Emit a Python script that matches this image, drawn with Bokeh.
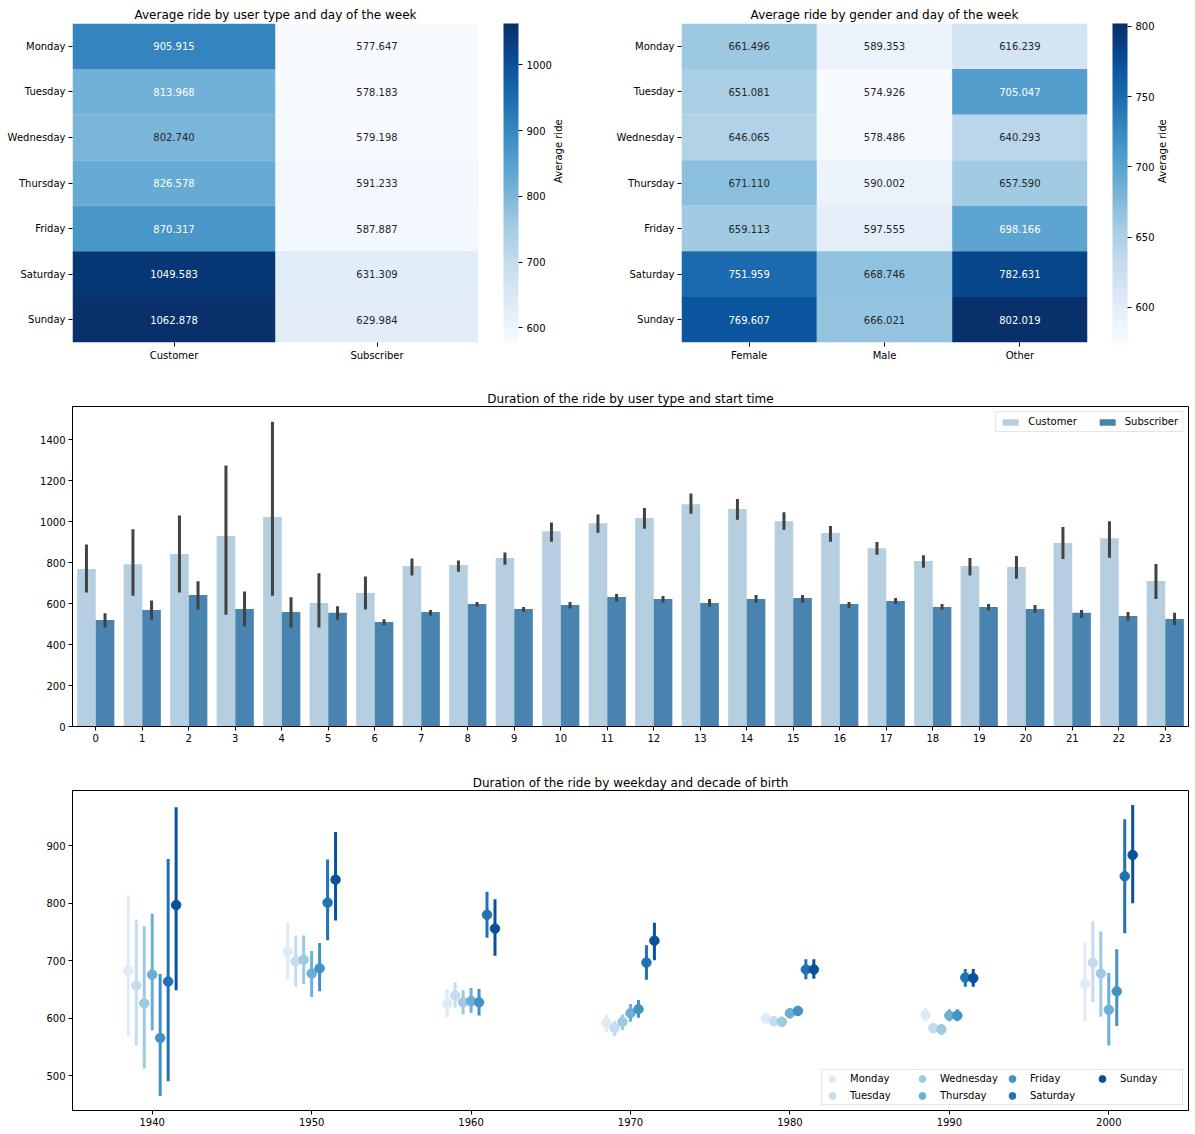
import numpy as np
from bokeh.plotting import figure
from bokeh.models import (ColumnDataSource, FactorRange, Range1d, LinearColorMapper, ColorBar,
                          FixedTicker, Legend, LegendItem, CategoricalAxis)
from bokeh.layouts import column, row
from bokeh.transform import dodge, transform
from bokeh.palettes import Blues256
from bokeh.core.properties import value
from bokeh.embed import file_html
from bokeh.resources import INLINE

FONT = "DejaVu Sans"

# ---------------- data ----------------
days = ["Monday", "Tuesday", "Wednesday", "Thursday", "Friday", "Saturday", "Sunday"]
user_types = ["Customer", "Subscriber"]
genders = ["Female", "Male", "Other"]

ut_customer = [905.915, 813.968, 802.740, 826.578, 870.317, 1049.583, 1062.878]
ut_subscriber = [577.647, 578.183, 579.198, 591.233, 587.887, 631.309, 629.984]

g_female = [661.496, 651.081, 646.065, 671.110, 659.113, 751.959, 769.607]
g_male = [589.353, 574.926, 578.486, 590.002, 597.555, 668.746, 666.021]
g_other = [616.239, 705.047, 640.293, 657.590, 698.166, 782.631, 802.019]

hours = list(range(24))
cust_mean = [769, 793, 842, 930, 1023, 603, 652, 784, 789, 823, 954, 993, 1018, 1086, 1062, 1003, 945, 871, 808, 784, 779, 896, 920, 711]
cust_lo = [654, 639, 654, 546, 639, 483, 571, 737, 756, 790, 902, 946, 966, 1039, 1010, 961, 902, 839, 776, 737, 722, 818, 824, 623]
cust_hi = [889, 963, 1031, 1275, 1489, 748, 733, 821, 811, 850, 997, 1036, 1067, 1138, 1111, 1046, 979, 901, 837, 823, 833, 974, 1003, 794]
sub_mean = [520, 569, 642, 574, 559, 555, 511, 559, 598, 574, 594, 633, 623, 603, 623, 628, 598, 613, 584, 584, 574, 555, 540, 525]
sub_lo = [483, 522, 571, 488, 483, 522, 494, 542, 585, 561, 576, 610, 605, 585, 605, 605, 579, 598, 571, 566, 555, 530, 517, 496]
sub_hi = [553, 616, 709, 660, 631, 587, 524, 569, 608, 584, 608, 647, 637, 623, 642, 642, 608, 628, 598, 598, 594, 569, 559, 555]

decades = [1940, 1950, 1960, 1970, 1980, 1990, 2000]
monday_mean = [683, 716, 626, 592, 600, 606, 660]
monday_lo = [569, 668, 602, 576, 592, 595, 595]
monday_hi = [814, 767, 651, 607, 610, 618, 732]
tuesday_mean = [657, 699, 640, 583, 595, 583, 697]
tuesday_lo = [553, 655, 619, 569, 587, 575, 628]
tuesday_hi = [772, 744, 663, 596, 603, 592, 769]
wednesday_mean = [626, 702, 628, 594, 594, 581, 678]
wednesday_lo = [513, 660, 607, 580, 586, 571, 603]
wednesday_hi = [760, 744, 649, 607, 603, 589, 751]
thursday_mean = [676, 678, 630, 609, 609, 605, 615]
thursday_lo = [579, 637, 610, 594, 600, 595, 553]
thursday_hi = [782, 717, 653, 625, 617, 616, 679]
friday_mean = [566, 687, 628, 616, 613, 605, 647]
friday_lo = [465, 647, 605, 601, 604, 595, 587]
friday_hi = [677, 731, 651, 632, 621, 616, 720]
saturday_mean = [664, 801, 780, 697, 685, 671, 847]
saturday_lo = [491, 736, 740, 667, 668, 655, 748]
saturday_hi = [877, 876, 820, 727, 703, 686, 946]
sunday_mean = [797, 841, 756, 735, 685, 670, 884]
sunday_lo = [649, 770, 709, 701, 669, 655, 800]
sunday_hi = [967, 924, 807, 766, 703, 686, 971]

day_colors = ["#deebf7", "#c6dbef", "#9ecae1", "#6baed6", "#4292c6", "#2171b5", "#08519c"]
cust_color = "#b5cfe0"
sub_color = "#4884af"


# ---------------- helpers ----------------
def rel_lum(h):
    r, g, b = [int(h[i:i + 2], 16) / 255 for i in (1, 3, 5)]

    def lin(c):
        return c / 12.92 if c <= 0.03928 else ((c + 0.055) / 1.055) ** 2.4
    return 0.2126 * lin(r) + 0.7152 * lin(g) + 0.0722 * lin(b)


pal = list(Blues256)
if rel_lum(pal[0]) < rel_lum(pal[-1]):
    pal = pal[::-1]


def cell_color(v, lo, hi):
    n = len(pal)
    i = int((v - lo) / (hi - lo) * n)
    return pal[min(max(i, 0), n - 1)]


def style_common(p, standoff):
    p.title.text_font = FONT
    p.title.text_font_size = "12px"
    p.title.text_font_style = "normal"
    p.title.text_color = "black"
    p.title.align = "center"
    p.title.standoff = standoff
    p.xgrid.grid_line_color = None
    p.ygrid.grid_line_color = None
    for ax in (p.xaxis[0], p.yaxis[0]):
        ax.major_label_text_font = FONT
        ax.major_label_text_font_size = "10px"
        ax.major_label_text_color = "black"
        ax.major_tick_in = 0
        ax.major_tick_out = 4
        ax.minor_tick_in = 0
        ax.minor_tick_out = 0
        ax.major_tick_line_color = "black"
        ax.major_label_standoff = 3


def make_heatmap(title, cols, series, width, b_left, b_right, cb_ticks, lab_standoff):
    xs, ys, vals = [], [], []
    for c, s in zip(cols, series):
        for d, v in zip(days, s):
            xs.append(c)
            ys.append(d)
            vals.append(v)
    lo, hi = min(vals), max(vals)
    mapper = LinearColorMapper(palette=pal, low=lo, high=hi)
    labels = [f"{v:.3f}" for v in vals]
    tcol = ["#262626" if rel_lum(cell_color(v, lo, hi)) > 0.408 else "#ffffff" for v in vals]
    src = ColumnDataSource(dict(x=xs, y=ys, v=vals, label=labels, tc=tcol))
    p = figure(width=width, height=375, x_range=FactorRange(*cols), y_range=FactorRange(*days[::-1]),
               output_backend="svg", toolbar_location=None, title=title,
               min_border_left=b_left, min_border_right=b_right, min_border_top=23, min_border_bottom=33)
    p.extra_y_ranges = {"cb": FactorRange(*days[::-1])}
    p.rect(x="x", y="y", width=1, height=1, source=src, fill_color=transform("v", mapper), line_color=None)
    p.text(x="x", y="y", text="label", source=src, text_color="tc", text_align="center",
           text_baseline="middle", text_font=value(FONT), text_font_size="10px")
    style_common(p, 4)
    p.outline_line_color = None
    p.xaxis.axis_line_color = None
    p.yaxis.axis_line_color = None
    cb = ColorBar(color_mapper=mapper, ticker=FixedTicker(ticks=cb_ticks), location=(431, 0),
                  width=15, height=319, padding=0, margin=0, major_tick_in=0, major_tick_out=4,
                  major_tick_line_color="black", minor_tick_line_color=None, bar_line_color=None,
                  border_line_color=None, background_fill_color=None, label_standoff=4,
                  major_label_text_font=FONT, major_label_text_font_size="10px",
                  major_label_text_color="black")
    p.add_layout(cb)
    ax = CategoricalAxis(y_range_name="cb", axis_label="Average ride",
                         axis_line_color=None, major_tick_line_color=None,
                         major_tick_out=0, major_tick_in=0,
                         major_label_text_font_size="0px", major_label_text_color=None,
                         major_label_standoff=0, axis_label_standoff=lab_standoff,
                         axis_label_text_font=FONT, axis_label_text_font_size="10px",
                         axis_label_text_font_style="normal", axis_label_text_color="black")
    if "axis_label_orientation" in CategoricalAxis.properties():
        ax.axis_label_orientation = np.pi / 2
        ax.bounds = (0, 5.6)
    p.add_layout(ax, "right")
    return p


p1 = make_heatmap("Average ride by user type and day of the week", user_types,
                  [ut_customer, ut_subscriber], 600, 72, 122, [600, 700, 800, 900, 1000], 80)
p2 = make_heatmap("Average ride by gender and day of the week", genders,
                  [g_female, g_male, g_other], 595, 81, 108, [600, 650, 700, 750, 800], 75)

# ---------------- bar chart ----------------
bar_src = ColumnDataSource(dict(hour=hours, cm=cust_mean, clo=cust_lo, chi=cust_hi,
                                sm=sub_mean, slo=sub_lo, shi=sub_hi))
p3 = figure(width=1195, height=385, x_range=Range1d(-0.5, 23.5), y_range=Range1d(0, 1563),
            output_backend="svg", toolbar_location=None,
            title="Duration of the ride by user type and start time",
            min_border_left=72, min_border_right=7, min_border_top=31, min_border_bottom=34)
rc = p3.vbar(x=dodge("hour", -0.2, range=p3.x_range), top="cm", width=0.4, source=bar_src,
             fill_color=cust_color, line_color=None)
rs = p3.vbar(x=dodge("hour", 0.2, range=p3.x_range), top="sm", width=0.4, source=bar_src,
             fill_color=sub_color, line_color=None)
p3.segment(x0=dodge("hour", -0.2, range=p3.x_range), y0="clo", x1=dodge("hour", -0.2, range=p3.x_range),
           y1="chi", source=bar_src, line_color="#424242", line_width=3)
p3.segment(x0=dodge("hour", 0.2, range=p3.x_range), y0="slo", x1=dodge("hour", 0.2, range=p3.x_range),
           y1="shi", source=bar_src, line_color="#424242", line_width=3)
style_common(p3, 2)
p3.xaxis.ticker = FixedTicker(ticks=hours)
p3.yaxis.ticker = FixedTicker(ticks=[0, 200, 400, 600, 800, 1000, 1200, 1400])
p3.outline_line_color = "black"
p3.xaxis.axis_line_color = "black"
p3.yaxis.axis_line_color = "black"
leg3 = Legend(items=[LegendItem(label="Customer", renderers=[rc]),
                     LegendItem(label="Subscriber", renderers=[rs])],
              location="top_right", orientation="horizontal",
              label_text_font=FONT, label_text_font_size="10px", label_text_color="black",
              label_standoff=8, glyph_width=20, glyph_height=8, spacing=20, padding=4, margin=5,
              border_line_color="#cccccc", background_fill_alpha=0.8, label_height=10)
p3.add_layout(leg3)

# ---------------- point plot ----------------
p4 = figure(width=1195, height=374, x_range=Range1d(1935, 2005), y_range=Range1d(440, 996),
            output_backend="svg", toolbar_location=None,
            title="Duration of the ride by weekday and decade of birth",
            min_border_left=72, min_border_right=7, min_border_top=30, min_border_bottom=24)
series = [
    (monday_mean, monday_lo, monday_hi),
    (tuesday_mean, tuesday_lo, tuesday_hi),
    (wednesday_mean, wednesday_lo, wednesday_hi),
    (thursday_mean, thursday_lo, thursday_hi),
    (friday_mean, friday_lo, friday_hi),
    (saturday_mean, saturday_lo, saturday_hi),
    (sunday_mean, sunday_lo, sunday_hi),
]
offsets = [-1.5, -1.0, -0.5, 0.0, 0.5, 1.0, 1.5]
items = []
for day, (m, lo, hi), col, off in zip(days, series, day_colors, offsets):
    src = ColumnDataSource(dict(decade=decades, m=m, lo=lo, hi=hi))
    xd = dodge("decade", off, range=p4.x_range)
    p4.segment(x0=xd, y0="lo", x1=xd, y1="hi", source=src, line_color=col, line_width=3)
    r = p4.scatter(x=xd, y="m", source=src, size=9.5, fill_color=col, line_color=col)
    items.append(LegendItem(label=day, renderers=[r]))
style_common(p4, 2)
p4.xaxis.ticker = FixedTicker(ticks=decades)
p4.yaxis.ticker = FixedTicker(ticks=[500, 600, 700, 800, 900])
p4.outline_line_color = "black"
p4.xaxis.axis_line_color = "black"
p4.yaxis.axis_line_color = "black"
leg4 = Legend(items=items, location="bottom_right", orientation="vertical", nrows=2,
              label_text_font=FONT, label_text_font_size="10px", label_text_color="black",
              label_standoff=8, glyph_width=20, glyph_height=17, spacing=0, padding=0, margin=5,
              label_width=62, border_line_color="#cccccc", background_fill_alpha=0.8, label_height=15)
p4.add_layout(leg4)

layout = column(row(p1, p2), p3, p4)
open("out.html", "w").write(file_html(layout, INLINE))
